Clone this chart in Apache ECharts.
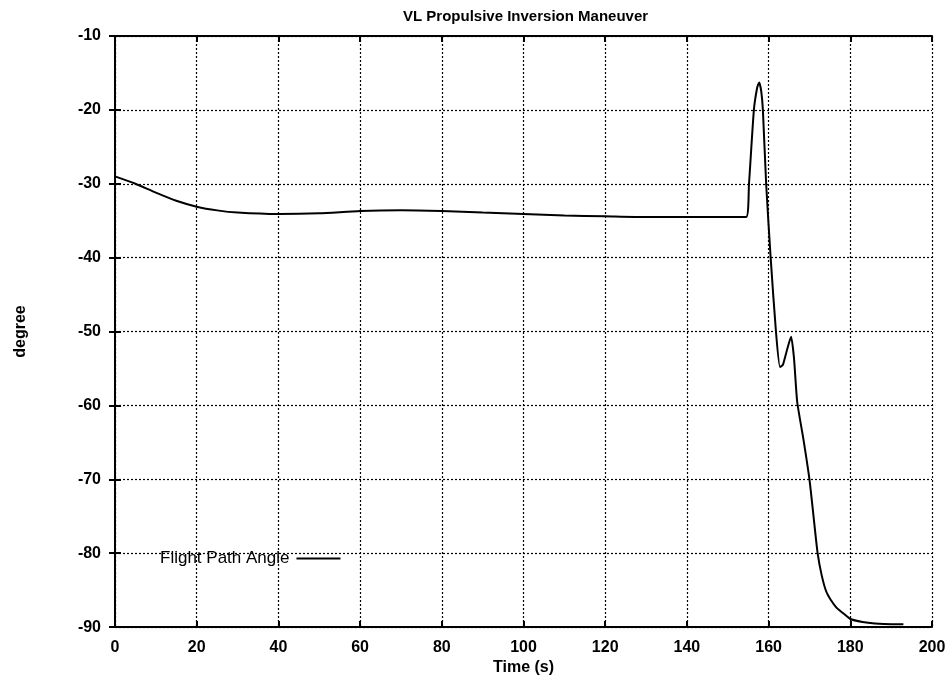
<!DOCTYPE html>
<html>
<head>
<meta charset="utf-8">
<script src="https://cdn.jsdelivr.net/npm/echarts@6/dist/echarts.min.js"></script>
<style>html,body{margin:0;padding:0;background:#fff;}#c{width:952px;height:681px;}</style>
</head>
<body>
<div id="c"></div>
<script>
const titleText = "VL Propulsive Inversion Maneuver";
const xName = "Time (s)";
const yName = "degree";
const seriesName = "Flight Path Angle";
const xTicks = [0, 20, 40, 60, 80, 100, 120, 140, 160, 180, 200];
const yTicks = [-90, -80, -70, -60, -50, -40, -30, -20, -10];
const timeS = [0, 5, 10, 15, 20, 25, 30, 40, 50, 60, 70, 80, 90, 100, 110, 120, 130, 140, 150, 154.5, 155.2, 156.4, 157.2, 157.7, 158.2, 158.6, 159.4, 160.5, 161.8, 162.8, 163.5, 164.5, 165.5, 166.2, 167, 168.5, 170, 171, 172, 173, 174.2, 176.5, 178.2, 180, 183, 186, 190, 193];
const angleDeg = [-29, -30, -31.2, -32.3, -33.1, -33.6, -33.9, -34.1, -34.0, -33.7, -33.6, -33.7, -33.9, -34.1, -34.3, -34.4, -34.5, -34.5, -34.5, -34.5, -30, -20, -17, -16.3, -17.5, -20, -30, -40, -50, -54.8, -54.5, -52.5, -50.7, -53.5, -59.5, -64.5, -70, -75, -80, -83, -85.3, -87.3, -88.1, -88.9, -89.3, -89.5, -89.6, -89.6];

const FONT = "Liberation Sans";
const chart = echarts.init(document.getElementById('c'), null, {renderer: 'canvas'});
const pts = timeS.map((t, i) => [t, angleDeg[i]]);
const tickStyle = {show: true, inside: true, length: 6, lineStyle: {color: '#000', width: 2}};
const axisLine = {show: true, lineStyle: {color: '#000', width: 2}};
const gridLine = {show: true, lineStyle: {color: '#000', width: 1.2, type: [2, 2]}};
const labelFont = {fontFamily: FONT, fontSize: 16, fontWeight: 'bold', color: '#000'};
chart.setOption({
  animation: false,
  backgroundColor: '#fff',
  title: {
    text: titleText, left: 398, top: 4,
    textStyle: {fontFamily: FONT, fontSize: 15, fontWeight: 'bold', color: '#000'}
  },
  legend: {
    data: [{name: seriesName, icon: 'rect'}], left: 155, top: 545, align: 'right',
    itemWidth: 44, itemHeight: 2, itemGap: 0,
    textStyle: Object.assign({}, labelFont, {fontWeight: 'normal', fontSize: 17, padding: [0, 2, 0, 0]})
  },
  grid: {left: 115, right: 20, top: 36, bottom: 51, containLabel: false},
  xAxis: [{
    type: 'value', min: 0, max: 200, interval: 20, position: 'bottom',
    name: xName, nameLocation: 'middle', nameGap: 27,
    nameTextStyle: labelFont,
    axisLine: axisLine, axisTick: tickStyle, splitLine: gridLine,
    axisLabel: Object.assign({margin: 12}, labelFont)
  }, {
    type: 'value', min: 0, max: 200, interval: 20, position: 'top',
    axisLine: axisLine, axisTick: tickStyle, splitLine: {show: false}, axisLabel: {show: false}
  }],
  yAxis: [{
    type: 'value', min: -90, max: -10, interval: 10, position: 'left',
    name: yName, nameLocation: 'middle', nameGap: 86, nameRotate: 90,
    nameTextStyle: labelFont,
    axisLine: axisLine, axisTick: tickStyle, splitLine: gridLine,
    axisLabel: Object.assign({margin: 14}, labelFont)
  }, {
    type: 'value', min: -90, max: -10, interval: 10, position: 'right',
    axisLine: axisLine, axisTick: tickStyle, splitLine: {show: false}, axisLabel: {show: false}
  }],
  series: [{
    name: seriesName, type: 'line', data: pts, xAxisIndex: 0, yAxisIndex: 0,
    showSymbol: false, symbol: 'none', smooth: 0.2,
    lineStyle: {color: '#000', width: 2}, itemStyle: {color: '#000'}
  }]
});
</script>
</body>
</html>
